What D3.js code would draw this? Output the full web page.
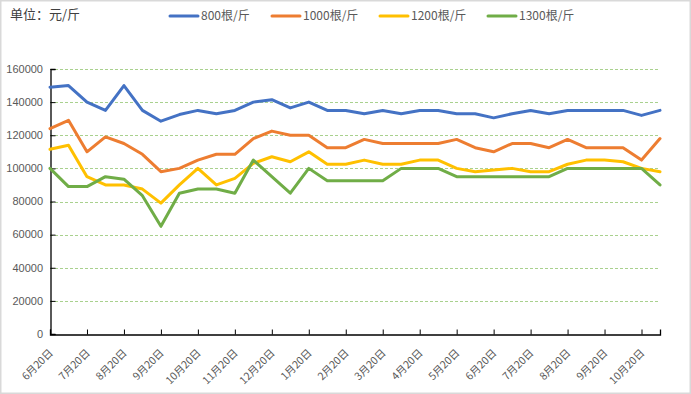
<!DOCTYPE html>
<html>
<head>
<meta charset="utf-8">
<script src="https://cdn.jsdelivr.net/npm/d3@7"></script>
<style>
  html, body { margin: 0; padding: 0; background: #fff; }
  svg { display: block; font-family: "Microsoft YaHei", "Noto Sans CJK SC", "Liberation Sans", sans-serif; }
</style>
</head>
<body>
<svg id="chart" width="691" height="394"></svg>
<script>
// ---- data ----
const tickLabels = ["6月20日","7月20日","8月20日","9月20日","10月20日","11月20日","12月20日",
  "1月20日","2月20日","3月20日","4月20日","5月20日","6月20日","7月20日","8月20日","9月20日","10月20日"];
const seriesNames = ["800根/斤","1000根/斤","1200根/斤","1300根/斤"];
const seriesColors = ["#4472C4","#ED7D31","#FFC000","#70AD47"];
const yTicks = [0,20000,40000,60000,80000,100000,120000,140000,160000];

const s800 = [149000,150000,140000,135000,150000,135000,128500,132500,135000,133000,
  135000,140000,141500,136500,140000,135000,135000,133000,135000,133000,
  135000,135000,133000,133000,130500,133000,135000,133000,135000,135000,
  135000,135000,132000,135000];
const s1000 = [124000,129000,110000,119000,115000,108500,98000,100000,105000,108500,
  108500,118000,122500,120000,120000,112500,112500,117500,115000,115000,
  115000,115000,117500,112500,110000,115000,115000,112500,117500,112500,
  112500,112500,105000,118000];
const s1200 = [111500,114000,95000,90000,90000,87500,79000,90000,100000,90000,
  94000,103000,107000,104000,110000,102500,102500,105000,102500,102500,
  105000,105000,100000,98000,99000,100000,98000,98000,102500,105000,
  105000,104000,100000,98000];
const s1300 = [100000,89000,89000,95000,93500,83500,65000,85000,87500,87500,
  85000,105000,95000,85000,100000,92500,92500,92500,92500,100000,
  100000,100000,95000,95000,95000,95000,95000,95000,100000,100000,
  100000,100000,100000,90000];
const allSeries = [s800, s1000, s1200, s1300];

// ---- layout ----
const W = 691, H = 394;
const margin = {left: 50, right: 31, top: 69, bottom: 60};
const svg = d3.select("#chart");

svg.append("rect").attr("x", 0.75).attr("y", 0.75).attr("width", W - 1.5).attr("height", H - 1.5)
  .attr("fill", "#fff").attr("stroke", "#D9D9D9").attr("stroke-width", 1.5);

const n = s800.length;
const x = d3.scaleLinear().domain([0, n - 1]).range([margin.left, W - margin.right]);
const y = d3.scaleLinear().domain([0, 160000]).range([H - margin.bottom, margin.top]);

// gridlines
svg.append("g").selectAll("line").data(yTicks.filter(d => d > 0)).join("line")
  .attr("x1", margin.left).attr("x2", W - margin.right)
  .attr("y1", d => Math.round(y(d)) + 0.5).attr("y2", d => Math.round(y(d)) + 0.5)
  .attr("stroke", "#A9D18E").attr("stroke-width", 1).attr("stroke-dasharray", "3,2");

// y axis
const yAxis = d3.axisRight(y).tickValues(yTicks).tickSize(5).tickFormat("");
const gy = svg.append("g").attr("transform", `translate(${margin.left + 0.5},0)`).call(yAxis);
gy.select(".domain").attr("stroke", "#000").attr("stroke-width", 1.3);
gy.selectAll(".tick line").attr("stroke", "#000");
svg.append("g").selectAll("text").data(yTicks).join("text")
  .attr("x", 43).attr("y", d => y(d)).attr("dy", "0.35em")
  .attr("text-anchor", "end").attr("font-size", 11).attr("fill", "#595959")
  .attr("font-family", "Liberation Sans, Arial, sans-serif")
  .text(d => d);

// x axis
const tickIdx = tickLabels.map((_, i) => i * 2);
const xAxis = d3.axisBottom(x).tickValues(tickIdx).tickSize(-5).tickFormat("");
const gx = svg.append("g").attr("transform", `translate(0,${y(0) + 0.5})`).call(xAxis);
gx.select(".domain").attr("stroke", "#000").attr("stroke-width", 1.3);
gx.selectAll(".tick line").attr("stroke", "#000");
svg.append("g").selectAll("text").data(tickLabels).join("text")
  .attr("transform", (d, i) => `translate(${x(tickIdx[i]) + 1},${y(0) + 17}) rotate(-45)`)
  .attr("text-anchor", "end").attr("dy", "0.35em")
  .attr("font-size", 10.5).attr("fill", "#595959")
  .text(d => d);

// lines
const line = d3.line().x((d, i) => x(i)).y(d => y(d));
svg.append("g").selectAll("path").data(allSeries).join("path")
  .attr("d", line).attr("fill", "none")
  .attr("stroke", (d, i) => seriesColors[i]).attr("stroke-width", 3)
  .attr("stroke-linejoin", "round").attr("stroke-linecap", "round");

// title / unit
svg.append("text").attr("x", 10).attr("y", 19).attr("font-size", 13).attr("fill", "#404040")
  .text("单位：元/斤");

// legend
const legendX = [170, 272, 380, 488];
const lg = svg.append("g").selectAll("g").data(seriesNames).join("g")
  .attr("transform", (d, i) => `translate(${legendX[i]},16)`);
lg.append("line").attr("x1", 0).attr("x2", 28).attr("y1", 0).attr("y2", 0)
  .attr("stroke", (d, i) => seriesColors[i]).attr("stroke-width", 3).attr("stroke-linecap", "round");
lg.append("text").attr("x", 31).attr("y", 0).attr("dy", "0.35em")
  .attr("font-size", 12).attr("fill", "#595959").text(d => d);
</script>
</body>
</html>
